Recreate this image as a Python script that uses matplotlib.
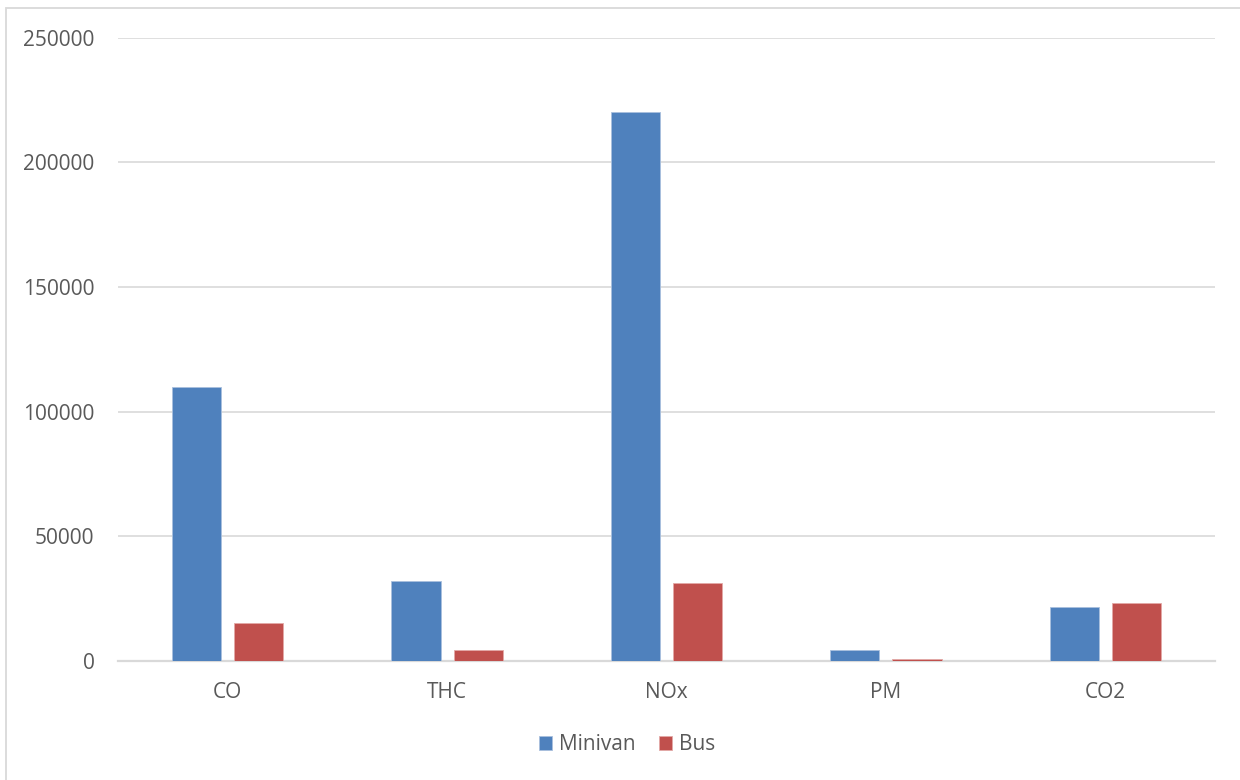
import matplotlib
matplotlib.use("Agg")
import matplotlib.pyplot as plt
from matplotlib.patches import Rectangle
import numpy as np

categories = ["CO", "THC", "NOx", "PM", "CO2"]
minivan = [110000, 32000, 220000, 4300, 21400]
bus = [15000, 4400, 31300, 700, 23000]
series_names = ["Minivan", "Bus"]
yticks = [0, 50000, 100000, 150000, 200000, 250000]

blue = "#4F81BD"
red = "#C0504D"
text_gray = "#595959"
grid_gray = "#D9D9D9"

plt.rcParams["font.family"] = ["Open Sans", "DejaVu Sans"]

W, H = 1240, 780
fig = plt.figure(figsize=(W / 100, H / 100), dpi=100)
fig.patch.set_facecolor("white")

# chart-area frame
fig.patches.append(Rectangle((5.5 / W, -0.05), 1.1, 1 - 8.5 / H + 0.05,
                             transform=fig.transFigure, fill=False,
                             edgecolor=grid_gray, linewidth=1.3))

left, right = 118 / W, 1215 / W
bottom, top = 1 - 660.7 / H, 1 - 37.7 / H
ax = fig.add_axes([left, bottom, right - left, top - bottom])

x = np.arange(len(categories))
bw = 0.224
off = 0.142
b1 = ax.bar(x - off, minivan, bw, color=blue, edgecolor="#A9C0DE",
            linewidth=0.6, label=series_names[0], zorder=3)
b2 = ax.bar(x + off, bus, bw, color=red, edgecolor="#E3A9A7",
            linewidth=0.6, label=series_names[1], zorder=3)

ax.set_xlim(-0.5, len(categories) - 0.5)
ax.set_ylim(0, 250000)
ax.set_yticks(yticks)
ax.set_yticklabels([str(v) for v in yticks])
ax.set_xticks(x)
ax.set_xticklabels(categories)

ax.yaxis.grid(True, color=grid_gray, linewidth=1.2, zorder=0)
ax.set_axisbelow(True)
for s in ["top", "right", "left"]:
    ax.spines[s].set_visible(False)
ax.spines["bottom"].set_color(grid_gray)
ax.spines["bottom"].set_linewidth(1.6)
ax.tick_params(axis="both", length=0, colors=text_gray, labelsize=15)
ax.tick_params(axis="y", pad=17)
ax.tick_params(axis="x", pad=15)

leg = fig.legend(handles=[b1, b2], labels=series_names, loc="center",
                 bbox_to_anchor=(627 / W, 1 - 745 / H), ncol=2, frameon=False,
                 fontsize=15, handlelength=0.62, handleheight=0.62,
                 handletextpad=0.35, columnspacing=1.1)
for t in leg.get_texts():
    t.set_color(text_gray)

fig.savefig("out.png", dpi=100, facecolor="white")
